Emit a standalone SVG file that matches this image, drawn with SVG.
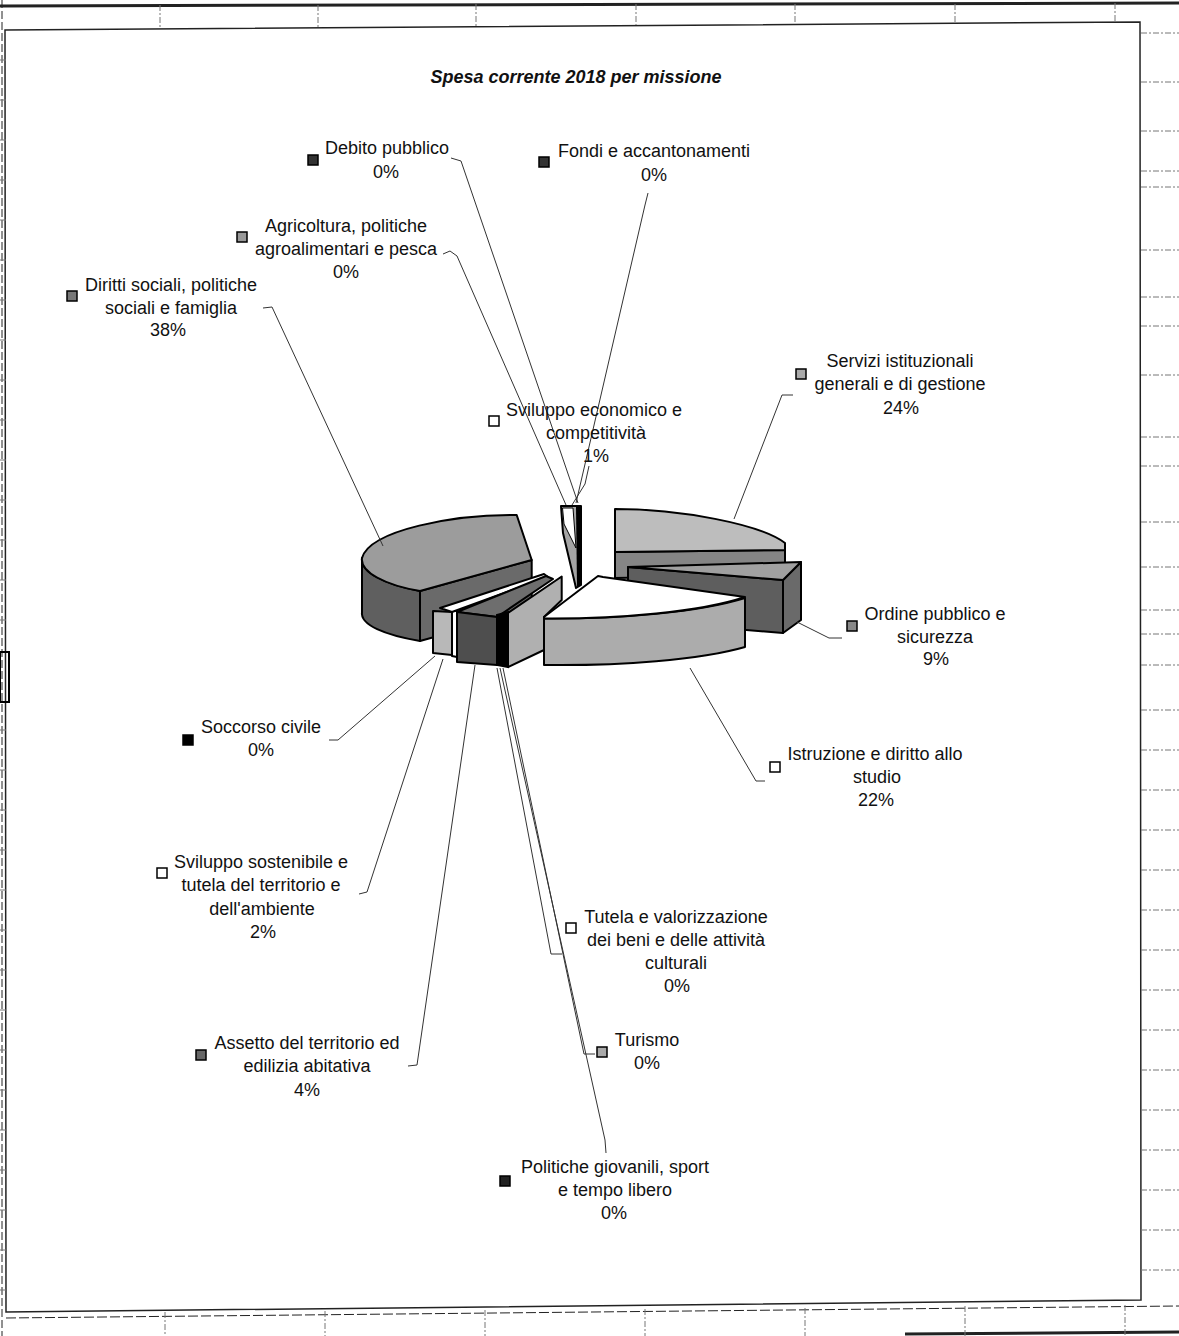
<svg xmlns="http://www.w3.org/2000/svg" width="1179" height="1336" viewBox="0 0 1179 1336">
<style>
.t{font-family:"Liberation Sans",Arial,sans-serif;font-size:18px;fill:#111;text-anchor:middle}
.title{font-family:"Liberation Sans",Arial,sans-serif;font-size:18px;font-weight:bold;font-style:italic;fill:#111;text-anchor:middle}
.ld{fill:none;stroke:#333;stroke-width:1}
.pe{stroke:#000;stroke-width:2;stroke-linejoin:round}
.mk{stroke:#000;stroke-width:1.5}
.grid{stroke:#777;stroke-width:1;stroke-dasharray:6 2 2 2;fill:none}
.fr{stroke:#222;fill:none}
</style>
<rect x="0" y="0" width="1179" height="1336" fill="#fff"/>
<g id="frame">
<line class="fr" x1="0" y1="6" x2="1179" y2="3" stroke-width="3"/>
<polygon class="fr" points="5,30 1140,22 1141,1300 6,1312" stroke-width="1.5"/>
<line class="fr" x1="2" y1="0" x2="2" y2="1336" stroke-width="1" stroke-dasharray="8 3"/>
<line class="fr" x1="6" y1="1318" x2="1179" y2="1306" stroke-width="1" stroke-dasharray="10 3"/>
<line class="fr" x1="905" y1="1334" x2="1179" y2="1332" stroke-width="3"/>
<rect x="0" y="652" width="9" height="50" fill="none" stroke="#000" stroke-width="2"/>
<g class="grid">
<path d="M160,5V28M318,5V27M476,4V26M636,4V25M795,4V24M955,4V23M1115,3V22"/>
<path d="M165,1312V1336M325,1311V1336M485,1310V1336M645,1309V1336M805,1308V1336M965,1306V1336M1125,1305V1336"/>
<path d="M1141,33H1179M1141,82H1179M1141,131H1179M1141,171H1179M1141,187H1179M1141,250H1179M1141,297H1179M1141,326H1179M1141,375H1179M1141,437H1179M1141,466H1179M1141,522H1179M1141,567H1179M1141,610H1179M1141,634H1179M1141,665H1179M1141,710H1179M1141,750H1179M1141,790H1179M1141,830H1179M1141,870H1179M1141,910H1179M1141,950H1179M1141,990H1179M1141,1030H1179M1141,1070H1179M1141,1110H1179M1141,1150H1179M1141,1190H1179M1141,1230H1179M1141,1270H1179"/>
<path d="M0,60H6M0,100H6M0,140H6M0,180H6M0,220H6M0,260H6M0,300H6M0,340H6M0,380H6M0,420H6M0,460H6M0,500H6M0,540H6M0,580H6M0,620H6M0,730H6M0,770H6M0,810H6M0,850H6M0,890H6M0,930H6M0,970H6M0,1010H6M0,1050H6M0,1090H6M0,1130H6M0,1170H6M0,1210H6M0,1250H6M0,1290H6"/>
</g>
</g>
<text class="title" x="576" y="83">Spesa corrente 2018  per missione</text>
<g id="pie">
<g id="slice-servizi">
<path class="pe" d="M615,552 L785,550 L785,575 L615,578 Z" fill="#858585"/>
<path class="pe" d="M615,509 C680,509 760,524 785,543 L785,550 L615,552 Z" fill="#bdbdbd"/>
</g>
<g id="slice-diritti">
<path class="pe" d="M420,591 L531.7,560 L531.7,610 L420,641 Z" fill="#6a6a6a"/>
<path class="pe" d="M362,558 C360,572 385,585 420,591 L420,641 C385,635 360,625 362,612 Z" fill="#5f5f5f"/>
<path class="pe" d="M531.7,560 L516.7,515 C455,514 370,530 362,558 C360,572 385,585 420,591 Z" fill="#9c9c9c"/>
</g>
<g id="slice-center">
<path class="pe" d="M561,506 L581,506 L581,585 L576,588 L563,533 Z" fill="#a5a5a5"/>
<path d="M562.5,508 L573,508 L576,548 L564,524 Z" fill="#fff" stroke="#000" stroke-width="1"/>
<path d="M576,507 L581,507 L581,585 L577,587 Z" fill="#000"/>
</g>
<g id="slice-ordine">
<path class="pe" d="M628,567 L783,580 L783,633 L628,620 Z" fill="#5e5e5e"/>
<path class="pe" d="M801,562 L783,580 L783,633 L801,620 Z" fill="#6a6a6a"/>
<path class="pe" d="M628,567 L801,562 L783,580 Z" fill="#a0a0a0"/>
</g>
<g id="slice-front">
<path class="pe" d="M433,611 L452,612 L452,655 L433,653 Z" fill="#b8b8b8"/>
<path class="pe" d="M452,610 L457,611 L457,657 L452,656 Z" fill="#fff"/>
<path class="pe" d="M440,608 L544,574 L548,577 L452,612 Z" fill="#fff"/>
<path class="pe" d="M457,612 L497,617 L553,579 L546,576 Z" fill="#6e6e6e"/>
<path class="pe" d="M457,612 L497,617 L497,665 L457,662 Z" fill="#4e4e4e"/>
<path d="M497,615 L508,612 L508,667 L497,665 Z" fill="#000" stroke="#000" stroke-width="2"/>
<path class="pe" d="M508,613 L561.7,576.5 L561.7,600 L544,617 L544,650 L508,667 Z" fill="#b0b0b0"/>
</g>
<g id="slice-istruzione">
<path class="pe" d="M544,618.5 C620,619 700,612 745,598 L745,647 C700,660 620,666 544,665 Z" fill="#acacac"/>
<path class="pe" d="M544,617 L598,576 L603,577 L745,597 C700,612 620,619 544,618.5 Z" fill="#fff"/>
</g>
</g>
<g id="connectors">
<polyline class="ld" points="451,158 461,161 578,503"/>
<polyline class="ld" points="648,193 645,205 576,503"/>
<polyline class="ld" points="443,254 450,251 457,256 566,505"/>
<polyline class="ld" points="589,466 585,484 572,505"/>
<polyline class="ld" points="263,308 272,307 383,546"/>
<polyline class="ld" points="793,395 782,395 734,519"/>
<polyline class="ld" points="797,622 829,638 842,638"/>
<polyline class="ld" points="690,668 756,781 765,781"/>
<polyline class="ld" points="329,740 338,740 435,656"/>
<polyline class="ld" points="359,894 367,892 443,659"/>
<polyline class="ld" points="408,1066 417,1065 475,665"/>
<polyline class="ld" points="562,954 551,954 497,668"/>
<polyline class="ld" points="595,1054 584,1054 503,668"/>
<polyline class="ld" points="606,1153 605,1140 500,668"/>
</g>
<g id="label-debito">
<rect class="mk" x="308" y="155" width="10" height="10" fill="#333"/>
<text class="t" x="387" y="154">Debito pubblico</text>
<text class="t" x="386" y="178">0%</text>
</g>
<g id="label-fondi">
<rect class="mk" x="539" y="157" width="10" height="10" fill="#333"/>
<text class="t" x="654" y="157">Fondi e accantonamenti</text>
<text class="t" x="654" y="181">0%</text>
</g>
<g id="label-agricoltura">
<rect class="mk" x="237" y="232" width="10" height="10" fill="#999"/>
<text class="t" x="346" y="232">Agricoltura, politiche</text>
<text class="t" x="346" y="255">agroalimentari e pesca</text>
<text class="t" x="346" y="278">0%</text>
</g>
<g id="label-diritti">
<rect class="mk" x="67" y="291" width="10" height="10" fill="#777"/>
<text class="t" x="171" y="291">Diritti sociali, politiche</text>
<text class="t" x="171" y="314">sociali e famiglia</text>
<text class="t" x="168" y="336">38%</text>
</g>
<g id="label-servizi">
<rect class="mk" x="796" y="369" width="10" height="10" fill="#aaa"/>
<text class="t" x="900" y="367">Servizi istituzionali</text>
<text class="t" x="900" y="390">generali e di gestione</text>
<text class="t" x="901" y="414">24%</text>
</g>
<g id="label-sviluppo-economico">
<rect class="mk" x="489" y="416" width="10" height="10" fill="#fff"/>
<text class="t" x="594" y="416">Sviluppo economico e</text>
<text class="t" x="596" y="439">competitività</text>
<text class="t" x="596" y="462">1%</text>
</g>
<g id="label-ordine">
<rect class="mk" x="847" y="621" width="10" height="10" fill="#888"/>
<text class="t" x="935" y="620">Ordine pubblico e</text>
<text class="t" x="935" y="643">sicurezza</text>
<text class="t" x="936" y="665">9%</text>
</g>
<g id="label-istruzione">
<rect class="mk" x="770" y="762" width="10" height="10" fill="#fff"/>
<text class="t" x="875" y="760">Istruzione e diritto allo</text>
<text class="t" x="877" y="783">studio</text>
<text class="t" x="876" y="806">22%</text>
</g>
<g id="label-soccorso">
<rect class="mk" x="183" y="735" width="10" height="10" fill="#000"/>
<text class="t" x="261" y="733">Soccorso civile</text>
<text class="t" x="261" y="756">0%</text>
</g>
<g id="label-sviluppo-sostenibile">
<rect class="mk" x="157" y="868" width="10" height="10" fill="#fff"/>
<text class="t" x="261" y="868">Sviluppo sostenibile e</text>
<text class="t" x="261" y="891">tutela del territorio e</text>
<text class="t" x="262" y="915">dell'ambiente</text>
<text class="t" x="263" y="938">2%</text>
</g>
<g id="label-tutela">
<rect class="mk" x="566" y="923" width="10" height="10" fill="#fff"/>
<text class="t" x="676" y="923">Tutela e valorizzazione</text>
<text class="t" x="676" y="946">dei beni e delle attività</text>
<text class="t" x="676" y="969">culturali</text>
<text class="t" x="677" y="992">0%</text>
</g>
<g id="label-turismo">
<rect class="mk" x="597" y="1047" width="10" height="10" fill="#aaa"/>
<text class="t" x="647" y="1046">Turismo</text>
<text class="t" x="647" y="1069">0%</text>
</g>
<g id="label-assetto">
<rect class="mk" x="196" y="1050" width="10" height="10" fill="#666"/>
<text class="t" x="307" y="1049">Assetto del territorio ed</text>
<text class="t" x="307" y="1072">edilizia abitativa</text>
<text class="t" x="307" y="1096">4%</text>
</g>
<g id="label-politiche">
<rect class="mk" x="500" y="1176" width="10" height="10" fill="#222"/>
<text class="t" x="615" y="1173">Politiche giovanili, sport</text>
<text class="t" x="615" y="1196">e tempo libero</text>
<text class="t" x="614" y="1219">0%</text>
</g>
</svg>
